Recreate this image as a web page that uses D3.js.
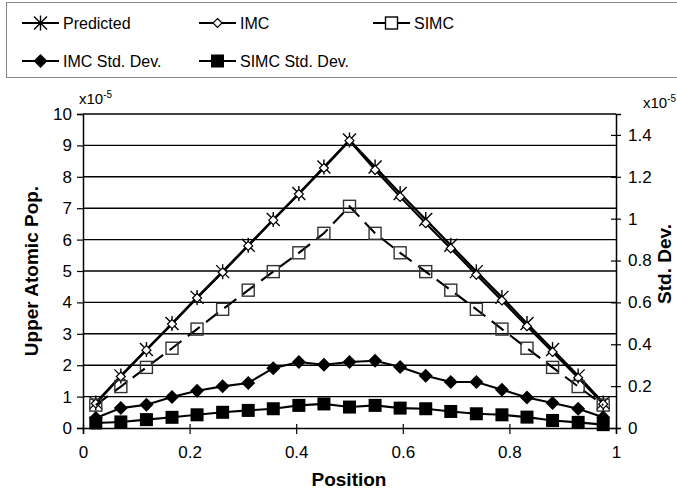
<!DOCTYPE html>
<html><head><meta charset="utf-8">
<script src="https://cdn.jsdelivr.net/npm/d3@7"></script>
<style>body{margin:0;background:#fff}svg{display:block;font-family:"Liberation Sans",Arial,sans-serif}</style>
</head><body><svg id="c" width="677" height="490"></svg>
<script>
const positions = [0.024,0.071,0.119,0.167,0.214,0.262,0.310,0.357,0.405,0.452,0.500,0.548,0.595,0.643,0.690,0.738,0.786,0.833,0.881,0.929,0.976];
const predicted = [0.80,1.66,2.50,3.33,4.16,4.98,5.82,6.64,7.47,8.31,9.17,8.31,7.47,6.64,5.82,4.98,4.16,3.33,2.50,1.66,0.80];
const imc = [0.78,1.64,2.48,3.31,4.14,4.96,5.80,6.62,7.45,8.28,9.15,8.22,7.36,6.52,5.72,4.88,4.06,3.24,2.42,1.60,0.76];
const simc = [0.73,1.32,1.93,2.54,3.15,3.78,4.39,4.98,5.58,6.20,7.06,6.20,5.58,4.98,4.39,3.78,3.15,2.54,1.93,1.32,0.73];
const imcSD = [0.048,0.095,0.111,0.148,0.178,0.199,0.215,0.286,0.315,0.302,0.315,0.321,0.291,0.250,0.220,0.220,0.183,0.146,0.119,0.092,0.051];
const simcSD = [0.024,0.029,0.040,0.051,0.063,0.075,0.084,0.092,0.108,0.115,0.100,0.108,0.095,0.092,0.079,0.068,0.063,0.052,0.036,0.027,0.016];
const xTicks = [0,0.2,0.4,0.6,0.8,1];
const yLeftTicks = [0,1,2,3,4,5,6,7,8,9,10];
const yRightTicks = [0,0.2,0.4,0.6,0.8,1,1.2,1.4];
const seriesNames = ["Predicted","IMC","SIMC","IMC Std. Dev.","SIMC Std. Dev."];

const svg = d3.select("#c");
const x = d3.scaleLinear().domain([0,1]).range([83,616]);
const yL = d3.scaleLinear().domain([0,10]).range([428,114]);
const yR = d3.scaleLinear().domain([0,1.5]).range([428,114]);

// gridlines
svg.append("g").selectAll("line").data(yLeftTicks.filter(d=>d>0)).join("line")
  .attr("x1",x(0)).attr("x2",x(1)).attr("y1",d=>yL(d)).attr("y2",d=>yL(d))
  .attr("stroke","#000").attr("stroke-width",1.4);

// axes
const fmt = d=>String(d);
const gL = svg.append("g").attr("transform",`translate(${x(0)},0)`)
  .call(d3.axisLeft(yL).tickValues(yLeftTicks).tickFormat(fmt).tickSize(6).tickPadding(5));
const gR = svg.append("g").attr("transform",`translate(${x(1)},0)`)
  .call(d3.axisRight(yR).tickValues(yRightTicks).tickFormat(fmt).tickSize(5).tickPadding(7));
const gB = svg.append("g").attr("transform",`translate(0,${yL(0)})`)
  .call(d3.axisBottom(x).tickValues(xTicks).tickFormat(fmt).tickSize(6).tickPadding(12));
[gL,gR,gB].forEach(g=>{
  g.select(".domain").attr("stroke","#000").attr("stroke-width",1.5);
  g.selectAll(".tick line").attr("stroke","#000").attr("stroke-width",1.2);
  g.selectAll(".tick text").attr("font-size",17).attr("fill","#000").attr("font-family","Liberation Sans, Arial, sans-serif");
});
gR.selectAll(".tick line").attr("x1",-5);
gB.selectAll(".tick line").attr("y1",-4);

// multipliers
function mult(px,py){
  const t = svg.append("text").attr("x",px).attr("y",py).attr("font-size",15);
  t.append("tspan").text("x10");
  t.append("tspan").attr("dy",-6).attr("font-size",10).text("-5");
}
mult(79,104);
mult(643,108);

// titles
svg.append("text").attr("transform","translate(38,271) rotate(-90)").attr("text-anchor","middle")
  .attr("font-size",19).attr("font-weight","bold").text("Upper Atomic Pop.");
svg.append("text").attr("transform","translate(671,264) rotate(-90)").attr("text-anchor","middle")
  .attr("font-size",19).attr("font-weight","bold").text("Std. Dev.");
svg.append("text").attr("x",349).attr("y",486).attr("text-anchor","middle")
  .attr("font-size",19).attr("font-weight","bold").text("Position");

// markers
function marker(g,type,cx,cy,legend){
  if(type==="star"){
    const s=6.5;
    g.append("path").attr("d",`M${cx-s},${cy-s}L${cx+s},${cy+s}M${cx-s},${cy+s}L${cx+s},${cy-s}M${cx},${cy-s-1}L${cx},${cy+s+1}`)
      .attr("stroke","#000").attr("stroke-width",1.4).attr("fill","none");
  } else if(type==="odiamond"){
    const s=4.5;
    g.append("path").attr("d",`M${cx},${cy-s}L${cx+s},${cy}L${cx},${cy+s}L${cx-s},${cy}Z`)
      .attr("stroke","#000").attr("stroke-width",1.2).attr("fill","#fff");
  } else if(type==="osquare"){
    const s=6;
    g.append("rect").attr("x",cx-s).attr("y",cy-s).attr("width",2*s).attr("height",2*s)
      .attr("stroke",legend?"#000":"#333").attr("stroke-width",1.4).attr("fill",legend?"#fff":"none");
  } else if(type==="fdiamond"){
    const s=7;
    g.append("path").attr("d",`M${cx},${cy-s}L${cx+s},${cy}L${cx},${cy+s}L${cx-s},${cy}Z`).attr("fill","#000");
  } else if(type==="fsquare"){
    const s=6.5;
    g.append("rect").attr("x",cx-s).attr("y",cy-s).attr("width",2*s).attr("height",2*s).attr("fill","#000");
  }
}

const series = [
  {name:seriesNames[0],vals:predicted,y:yL,m:"star",dash:null,w:2.3},
  {name:seriesNames[1],vals:imc,y:yL,m:"odiamond",dash:null,w:2.1},
  {name:seriesNames[2],vals:simc,y:yL,m:"osquare",dash:"15,8",w:2.1},
  {name:seriesNames[3],vals:imcSD,y:yR,m:"fdiamond",dash:null,w:2.1},
  {name:seriesNames[4],vals:simcSD,y:yR,m:"fsquare",dash:null,w:2.1}
];
series.forEach(s=>{
  const g = svg.append("g");
  const data = positions.map((p,i)=>[p,s.vals[i]]);
  g.append("path").datum(data)
    .attr("d",d3.line().x(d=>x(d[0])).y(d=>s.y(d[1])))
    .attr("fill","none").attr("stroke","#000").attr("stroke-width",s.w)
    .attr("stroke-dasharray",s.dash);
  data.forEach(d=>marker(g,s.m,x(d[0]),s.y(d[1]),false));
});

// legend
const lg = svg.append("g");
lg.append("rect").attr("x",6.5).attr("y",2.5).attr("width",690).attr("height",75)
  .attr("fill","#fff").attr("stroke","#888").attr("stroke-width",1);
const legPos = [[22,23],[199,23],[373,23],[22,61],[199,61]];
series.forEach((s,i)=>{
  const [lx,ly]=legPos[i];
  lg.append("line").attr("x1",lx).attr("x2",lx+37).attr("y1",ly).attr("y2",ly)
    .attr("stroke","#000").attr("stroke-width",2.2);
  marker(lg,s.m,lx+18.5,ly,true);
  lg.append("text").attr("x",lx+41).attr("y",ly+6).attr("font-size",16).text(s.name);
});
</script></body></html>
